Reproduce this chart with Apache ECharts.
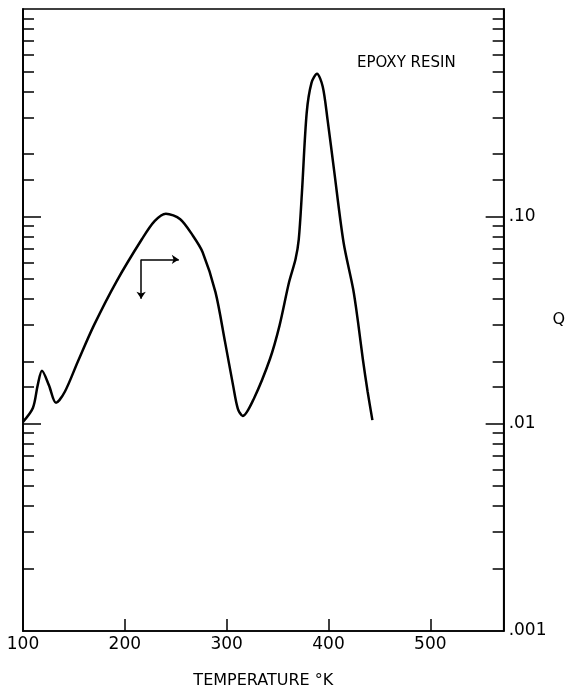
<!DOCTYPE html>
<html>
<head>
<meta charset="utf-8">
<script src="https://cdn.jsdelivr.net/npm/echarts@6/dist/echarts.min.js"></script>
<style>
  html, body { margin: 0; padding: 0; background: #fff; }
  #graph { width: 568px; height: 694px; }
</style>
</head>
<body>
<div id="graph"></div>
<script>
// temperature (K) and Q
var temperature = [100, 109.7, 114.4, 118.6, 125.5, 132.4, 141.2, 153.8, 169.5, 191.5,
  216.7, 229.2, 240.3, 254.4, 267, 276.4, 289, 298.4, 306.3, 311, 315.8, 326.7,
  342.5, 351.9, 361.3, 367.6, 370.8, 373.9, 378.6, 383.3, 388.7, 394.3, 399.1,
  405.4, 414.8, 424.2, 429, 433.7, 438.4, 443.1];
var qValues = [0.0102, 0.0119, 0.0153, 0.0180, 0.0153, 0.0126, 0.0143, 0.0199, 0.0297, 0.0482,
  0.0775, 0.0948, 0.103, 0.0969, 0.0804, 0.0671, 0.0431, 0.0248, 0.0153, 0.0118, 0.0109, 0.0132,
  0.0205, 0.0297, 0.0482, 0.0621, 0.0775, 0.13, 0.316, 0.44, 0.487, 0.423, 0.292,
  0.168, 0.0748, 0.0446, 0.0309, 0.0205, 0.0143, 0.0104];

// axis ticks
var tempLabels = [100, 200, 300, 400, 500];
var tempTicks = [200, 300, 400, 500];
var qMinorTicks = [0.002, 0.003, 0.004, 0.005, 0.006, 0.007, 0.008, 0.009,
  0.015, 0.02, 0.03, 0.04, 0.05, 0.06, 0.07, 0.08, 0.09,
  0.15, 0.2, 0.3, 0.4, 0.5, 0.6, 0.7, 0.8, 0.9];
var qDecadeTicks = [0.01, 0.1];
var qLabelValues = [0.001, 0.01, 0.1];
var qLabelText = ['.001', '.01', '.10'];

var font = 'DejaVu Sans';
var seriesData = temperature.map(function (t, i) { return [t, qValues[i]]; });

function qAxis(side, ticks, len, withLabels) {
  return {
    type: 'log',
    position: side,
    min: 0.001,
    max: 1,
    axisLine: { show: true, lineStyle: { color: '#000', width: 1.5 } },
    axisTick: { show: true, inside: true, length: len, customValues: ticks,
      lineStyle: { color: '#000', width: 1.5 } },
    axisLabel: withLabels ? {
      show: true, customValues: qLabelValues, margin: 5,
      color: '#000', fontFamily: font, fontSize: 17,
      formatter: function (v) {
        for (var i = 0; i < qLabelValues.length; i++) {
          if (Math.abs(Math.log10(v) - Math.log10(qLabelValues[i])) < 1e-6) return qLabelText[i];
        }
        return '';
      }
    } : { show: false },
    splitLine: { show: false },
    name: withLabels ? 'Q' : '',
    nameLocation: 'middle',
    nameRotate: 0,
    nameGap: 38,
    nameTextStyle: { color: '#000', fontFamily: font, fontSize: 16 }
  };
}

var myChart = echarts.init(document.getElementById('graph'));
var option = {
  animation: false,
  title: {
    text: 'EPOXY RESIN',
    left: 357,
    top: 56,
    padding: 0,
    textStyle: { color: '#000', fontFamily: font, fontSize: 15, fontWeight: 'normal' }
  },
  grid: {
    left: 23, right: 45, top: 9, bottom: 61,
    show: true, borderColor: '#000', borderWidth: 1.5
  },
  xAxis: {
    type: 'value',
    min: 100,
    max: 572,
    axisLine: { show: true, lineStyle: { color: '#000', width: 1.5 } },
    axisTick: { show: true, inside: true, length: 12, customValues: tempTicks,
      lineStyle: { color: '#000', width: 1.5 } },
    axisLabel: { customValues: tempLabels, margin: 5, color: '#000', fontFamily: font, fontSize: 17 },
    splitLine: { show: false },
    name: 'TEMPERATURE °K',
    nameLocation: 'middle',
    nameGap: 42,
    nameTextStyle: { color: '#000', fontFamily: font, fontSize: 16 }
  },
  yAxis: [
    qAxis('left', qMinorTicks, 11, false),
    qAxis('left', qDecadeTicks, 18, false),
    qAxis('right', qMinorTicks, 11, true),
    qAxis('right', qDecadeTicks, 18, false)
  ],
  series: [
    {
      type: 'line',
      yAxisIndex: 0,
      data: seriesData,
      smooth: 0.3,
      showSymbol: false,
      lineStyle: { color: '#000', width: 2.5 },
      markLine: {
        silent: true,
        symbol: ['none', 'arrow'],
        symbolSize: 7,
        label: { show: false },
        lineStyle: { color: '#000', width: 1.5, type: 'solid' },
        data: [
          [{ coord: [216, 0.062] }, { coord: [216, 0.040] }],
          [{ coord: [216, 0.062] }, { coord: [253, 0.062] }]
        ]
      }
    }
  ]
};
myChart.setOption(option);
</script>
</body>
</html>
